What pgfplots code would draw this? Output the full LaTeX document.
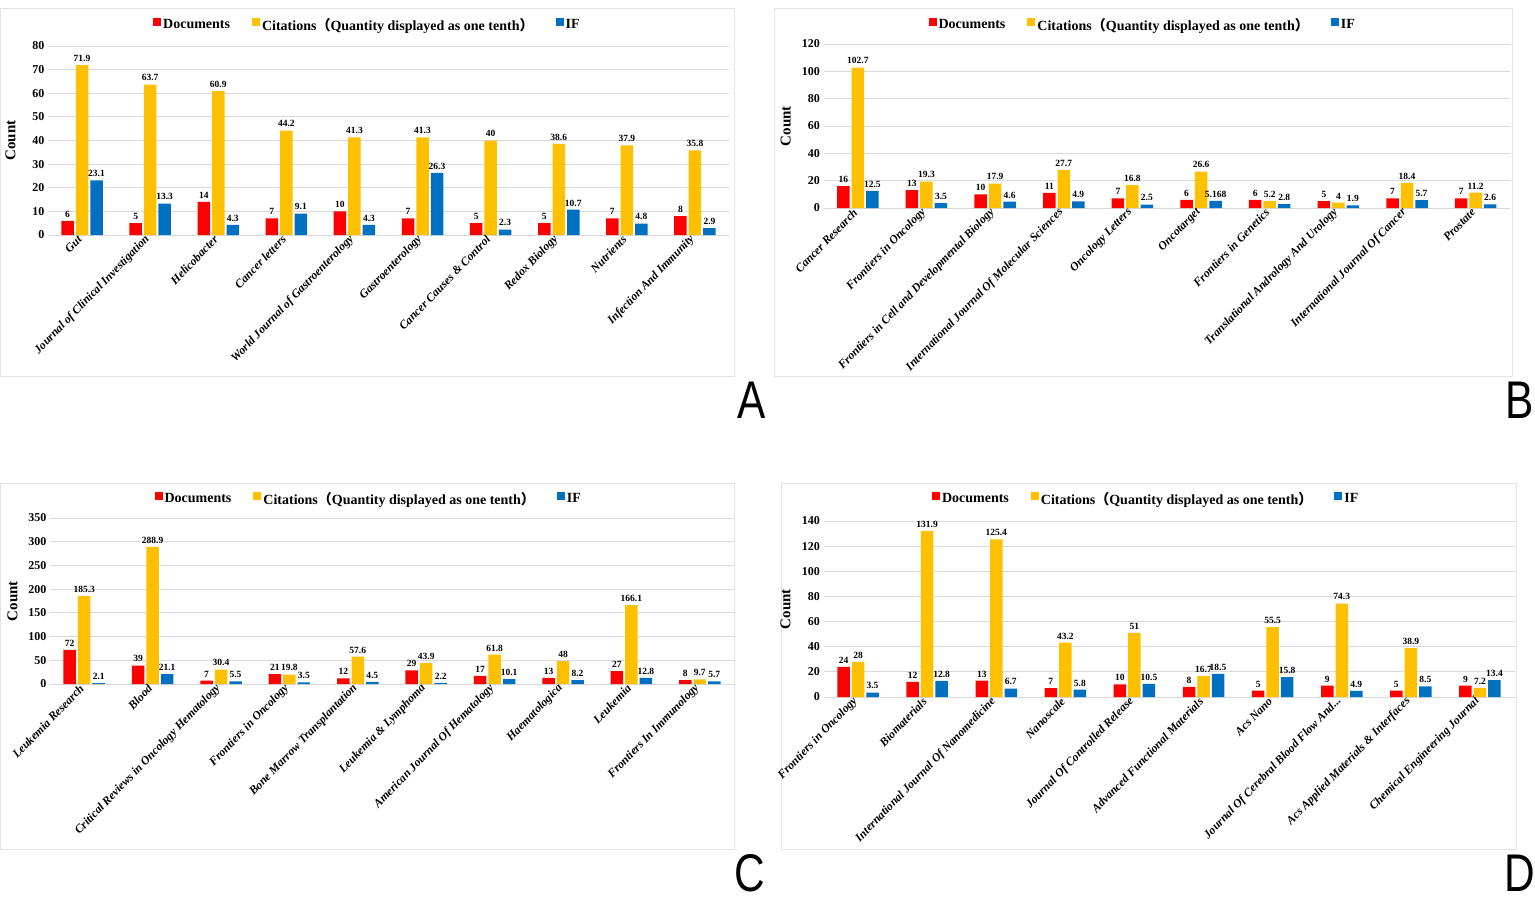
\documentclass[border=0pt]{standalone}
\usepackage{fontspec}
\setmainfont{Liberation Serif}
\setsansfont{Liberation Sans}
\newfontfamily\cjk{Noto Sans CJK SC}
\usepackage{pgfplots}
\pgfplotsset{compat=1.18}

\definecolor{cred}{HTML}{FF0000}
\definecolor{cyel}{HTML}{FFC000}
\definecolor{cblue}{HTML}{0070C0}
\definecolor{gridc}{HTML}{D9D9D9}
\definecolor{framec}{HTML}{E3E3E3}

\pgfplotsset{
 panel/.style={
  scale only axis, ybar=2pt, bar width=12.5pt, ymin=0,
  xmin=-0.5, xmax=9.5, xtick={0,1,2,3,4,5,6,7,8,9},
  axis line style={draw=none}, major tick length=0pt,
  ymajorgrids, grid style={gridc, line width=1pt},
  yticklabel style={font=\bfseries\fontsize{12}{12}\selectfont},
  xticklabel style={font=\bfseries\itshape\fontsize{11.8}{11.8}\selectfont, rotate=46, anchor=east},
  ylabel={Count},
  ylabel style={font=\bfseries\fontsize{15}{15}\selectfont, at={(rel axis cs:-0.055,0.5)}, anchor=center},
  /pgf/number format/assume math mode=true, /pgf/number format/precision=3,
  nodes near coords,
  every node near coord/.append style={font=\bfseries\fontsize{9.5}{9.5}\selectfont, black},
  clip=false,
  legend columns=3,
  legend style={draw=none, fill=none, font=\bfseries\fontsize{14}{14}\selectfont, anchor=center,
    /tikz/every even column/.append style={column sep=20pt}},
  legend image code/.code={\fill[##1] (0pt,-1pt) rectangle (8pt,7pt);},
 }
}

\begin{document}
\begin{tikzpicture}
\path[use as bounding box] (0pt,0pt) rectangle (1535pt,-902pt);
\draw[framec, line width=1pt] (0.5pt,-8pt) rectangle (734pt,-376pt);
\draw[framec, line width=1pt] (774pt,-8pt) rectangle (1512pt,-376pt);
\draw[framec, line width=1pt] (0.5pt,-483pt) rectangle (734pt,-849pt);
\draw[framec, line width=1pt] (781pt,-483pt) rectangle (1516pt,-849pt);

\node[font=\sffamily\fontsize{53}{53}\selectfont, xscale=0.8] at (752pt,-400pt) {A};
\node[font=\sffamily\fontsize{53}{53}\selectfont, xscale=0.8] at (1520pt,-400pt) {B};
\node[font=\sffamily\fontsize{53}{53}\selectfont, xscale=0.8] at (750pt,-873pt) {C};
\node[font=\sffamily\fontsize{53}{53}\selectfont, xscale=0.8] at (1520pt,-873pt) {D};

% Panel A
\begin{axis}[panel, at={(48pt,-235pt)}, anchor=south west, width=681pt, height=189pt,
  ymax=80, ytick={0,10,20,30,40,50,60,70,80},
  legend style={at={(0.469,1.111)}},
  xticklabels={{Gut},{Journal of Clinical Investigation},{Helicobacter},{Cancer letters},{World Journal of Gastroenterology},{Gastroenterology},{Cancer Causes \& Control},{Redox Biology},{Nutrients},{Infection And Immunity}}]
\addplot[fill=cred, draw=none] coordinates {(0,6) (1,5) (2,14) (3,7) (4,10) (5,7) (6,5) (7,5) (8,7) (9,8)};
\addlegendentry{Documents}
\addplot[fill=cyel, draw=none] coordinates {(0,71.9) (1,63.7) (2,60.9) (3,44.2) (4,41.3) (5,41.3) (6,40) (7,38.6) (8,37.9) (9,35.8)};
\addlegendentry{Citations{\cjk （}Quantity displayed as one tenth{\cjk ）}}
\addplot[fill=cblue, draw=none] coordinates {(0,23.1) (1,13.3) (2,4.3) (3,9.1) (4,4.3) (5,26.3) (6,2.3) (7,10.7) (8,4.8) (9,2.9)};
\addlegendentry{IF}
\end{axis}

% Panel B
\begin{axis}[panel, at={(823.5pt,-208pt)}, anchor=south west, width=686.5pt, height=164pt,
  ymax=120, ytick={0,20,40,60,80,100,120},
  legend style={at={(0.465,1.116)}},
  xticklabels={{Cancer Research},{Frontiers in Oncology},{Frontiers in Cell and Developmental Biology},{International Journal Of Molecular Sciences},{Oncology Letters},{Oncotarget},{Frontiers in Genetics},{Translational Andrology And Urology},{International Journal Of Cancer},{Prostate}}]
\addplot[fill=cred, draw=none] coordinates {(0,16) (1,13) (2,10) (3,11) (4,7) (5,6) (6,6) (7,5) (8,7) (9,7)};
\addlegendentry{Documents}
\addplot[fill=cyel, draw=none] coordinates {(0,102.7) (1,19.3) (2,17.9) (3,27.7) (4,16.8) (5,26.6) (6,5.2) (7,4) (8,18.4) (9,11.2)};
\addlegendentry{Citations{\cjk （}Quantity displayed as one tenth{\cjk ）}}
\addplot[fill=cblue, draw=none] coordinates {(0,12.5) (1,3.5) (2,4.6) (3,4.9) (4,2.5) (5,5.168) (6,2.8) (7,1.9) (8,5.7) (9,2.6)};
\addlegendentry{IF}
\end{axis}

% Panel C
\begin{axis}[panel, at={(50pt,-684pt)}, anchor=south west, width=684pt, height=166pt,
  ymax=350, ytick={0,50,100,150,200,250,300,350},
  legend style={at={(0.466,1.114)}},
  xticklabels={{Leukemia Research},{Blood},{Critical Reviews in Oncology Hematology},{Frontiers in Oncology},{Bone Marrow Transplantation},{Leukemia \& Lymphoma},{American Journal Of Hematology},{Haematologica},{Leukemia},{Frontiers In Immunology}}]
\addplot[fill=cred, draw=none] coordinates {(0,72) (1,39) (2,7) (3,21) (4,12) (5,29) (6,17) (7,13) (8,27) (9,8)};
\addlegendentry{Documents}
\addplot[fill=cyel, draw=none] coordinates {(0,185.3) (1,288.9) (2,30.4) (3,19.8) (4,57.6) (5,43.9) (6,61.8) (7,48) (8,166.1) (9,9.7)};
\addlegendentry{Citations{\cjk （}Quantity displayed as one tenth{\cjk ）}}
\addplot[fill=cblue, draw=none] coordinates {(0,2.1) (1,21.1) (2,5.5) (3,3.5) (4,4.5) (5,2.2) (6,10.1) (7,8.2) (8,12.8) (9,5.7)};
\addlegendentry{IF}
\end{axis}

% Panel D
\begin{axis}[panel, at={(823.5pt,-697pt)}, anchor=south west, width=691pt, height=176pt,
  ymax=140, ytick={0,20,40,60,80,100,120,140},
  legend style={at={(0.467,1.125)}},
  xticklabels={{Frontiers in Oncology},{Biomaterials},{International Journal Of Nanomedicine},{Nanoscale},{Journal Of Controlled Release},{Advanced Functional Materials},{Acs Nano},{Journal Of Cerebral Blood Flow And.{}.{}.},{Acs Applied Materials \& Interfaces},{Chemical Engineering Journal}}]
\addplot[fill=cred, draw=none] coordinates {(0,24) (1,12) (2,13) (3,7) (4,10) (5,8) (6,5) (7,9) (8,5) (9,9)};
\addlegendentry{Documents}
\addplot[fill=cyel, draw=none] coordinates {(0,28) (1,131.9) (2,125.4) (3,43.2) (4,51) (5,16.7) (6,55.5) (7,74.3) (8,38.9) (9,7.2)};
\addlegendentry{Citations{\cjk （}Quantity displayed as one tenth{\cjk ）}}
\addplot[fill=cblue, draw=none] coordinates {(0,3.5) (1,12.8) (2,6.7) (3,5.8) (4,10.5) (5,18.5) (6,15.8) (7,4.9) (8,8.5) (9,13.4)};
\addlegendentry{IF}
\end{axis}
\end{tikzpicture}
\end{document}
